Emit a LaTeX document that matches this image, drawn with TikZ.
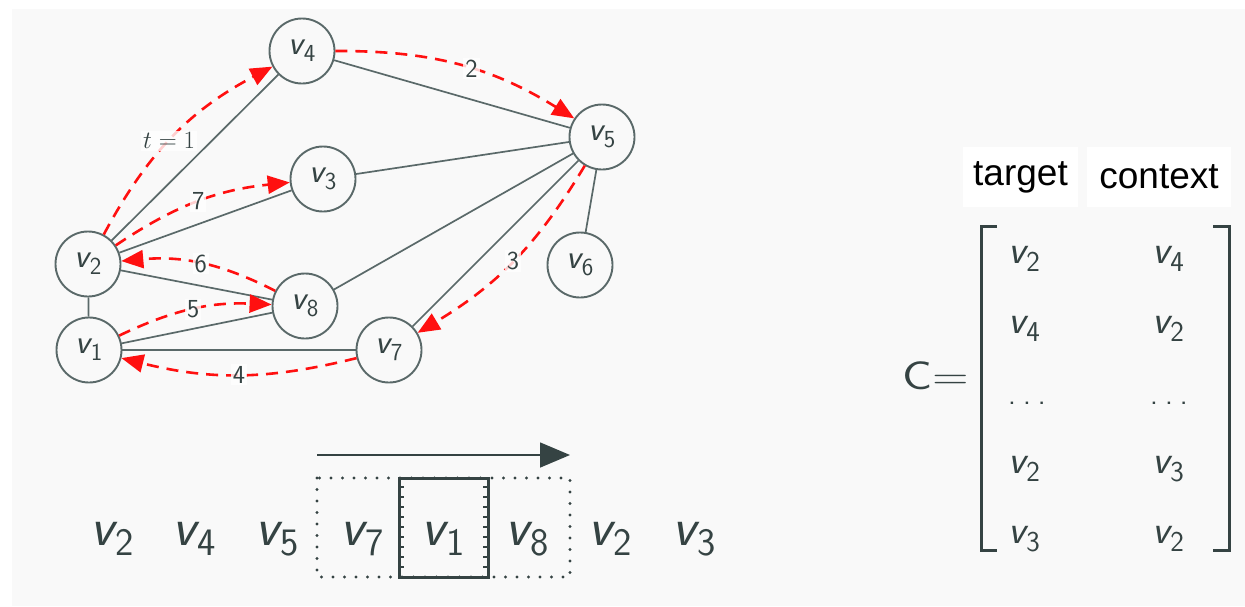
\documentclass[tikz,border=0pt]{standalone}
\usepackage{fontspec}
\newfontfamily\helv{Liberation Sans}
\usetikzlibrary{arrows.meta}
\definecolor{bg}{HTML}{F9F9F9}
\definecolor{edgec}{HTML}{5A6969}
\definecolor{ink}{HTML}{354343}
\definecolor{redc}{HTML}{FF1010}
\newcommand{\vn}[1]{{\slshape v}\kern0.02em\raisebox{-0.2em}{\scalebox{0.72}{#1}}}
\tikzset{
  gnode/.style={circle, draw=edgec, line width=1.9pt, fill=bg, minimum size=65pt, inner sep=0pt,
    text=ink, font=\sffamily\fontsize{34}{38}\selectfont},
  gedge/.style={draw=edgec, line width=1.7pt},
  redarrow/.style={draw=redc, line width=2.6pt, dash pattern=on 12pt off 8pt,
    -{Triangle[length=22pt,width=18pt]}},
  lbl/.style={fill=white, fill opacity=0.8, text opacity=1, text=ink, inner sep=2pt,
    font=\sffamily\fontsize{26}{28}\selectfont},
  seq/.style={anchor=base, text=ink, font=\sffamily\fontsize{54}{60}\selectfont, inner sep=0pt},
  mat/.style={anchor=base west, text=ink, font=\sffamily\fontsize{40}{44}\selectfont, inner sep=0pt},
  hdr/.style={fill=white, text=black, font=\helv\fontsize{37}{40}\selectfont, minimum height=60pt, inner sep=0pt},
  brk/.style={draw=ink, line width=3pt},
}
\begin{document}
\begin{tikzpicture}[x=1pt,y=-1pt]
\useasboundingbox (0,0) rectangle (1245,606);
\fill[bg] (12,9) rectangle (1245,606);

% graph nodes
\node[gnode] (v4) at (302,51) {\vn{4}};
\node[gnode] (v3) at (323,179) {\vn{3}};
\node[gnode] (v5) at (602,137) {\vn{5}};
\node[gnode] (v6) at (580,265) {\vn{6}};
\node[gnode] (v7) at (389,350) {\vn{7}};
\node[gnode] (v2) at (88,264) {\vn{2}};
\node[gnode] (v8) at (305,306) {\vn{8}};
\node[gnode] (v1) at (89,350) {\vn{1}};

% graph edges
\draw[gedge] (v2) -- (v4);
\draw[gedge] (v2) -- (v3);
\draw[gedge] (v2) -- (v8);
\draw[gedge] (v2) -- (v1);
\draw[gedge] (v1) -- (v8);
\draw[gedge] (v1) -- (v7);
\draw[gedge] (v4) -- (v5);
\draw[gedge] (v3) -- (v5);
\draw[gedge] (v8) -- (v5);
\draw[gedge] (v7) -- (v5);
\draw[gedge] (v6) -- (v5);

% walk
\draw[redarrow] (v2) to[bend left=17] node[lbl, font=\fontsize{25}{28}\selectfont, pos=0.47] {$t=1$} (v4);
\draw[redarrow] (v4.east) to[bend left=16] node[lbl, pos=0.55] {2} (v5);
\draw[redarrow] (v5) to[bend left=14] node[lbl] {3} (v7);
\draw[redarrow] (v7) to[bend left=14] node[lbl] {4} (v1);
\draw[redarrow] (v1) to[bend left=14] node[lbl] {5} (v8);
\draw[redarrow] (v8) to[bend right=16] node[lbl] {6} (v2);
\draw[redarrow] (v2) to[bend left=14] node[lbl] {7} (v3);

% sequence
\node[seq] (s1) at (112,545) {\vn{2}};
\node[seq] (s2) at (194,545) {\vn{4}};
\node[seq] (s3) at (277,545) {\vn{5}};
\node[seq] (s4) at (362,545) {\vn{7}};
\node[seq] (s5) at (443,545) {\vn{1}};
\node[seq] (s6) at (527,545) {\vn{8}};
\node[seq] (s7) at (610,545) {\vn{2}};
\node[seq] (s8) at (694,545) {\vn{3}};

% window
\coordinate (wa) at (317,478);
\coordinate (wb) at (570,577);
\draw[draw=ink, line width=3.4pt, line cap=round, dash pattern=on 0pt off 11.5pt] (wa) rectangle (wb);
\coordinate (ca) at (399,478);
\coordinate (cb) at (488,577);
\foreach \yy in {487,497,...,570} {
  \draw[draw=ink, line width=1.6pt] (399,\yy) -- (404,\yy);
  \draw[draw=ink, line width=1.6pt] (488,\yy) -- (483,\yy);
}
\draw[draw=ink, line width=3pt] (ca) rectangle (cb);
\coordinate (ar1) at (317,455);
\coordinate (ar2) at (570,455);
\draw[draw=ink, line width=1.6pt, -{Triangle[length=30pt,width=25pt]}] (ar1) -- (ar2);

% matrix
\node[hdr, minimum width=115pt] (ht) at (1020.5,177) {target};
\node[hdr, minimum width=144pt] (hc) at (1159,177) {context};
\node[anchor=base east, text=ink, font=\sffamily\fontsize{40}{44}\selectfont, inner sep=0pt] (C) at (969,389) {\scalebox{1.25}[1]{C=}};
\draw[brk] (997,226) -- (981,226) -- (981,550) -- (997,550);
\draw[brk] (1213,226) -- (1229,226) -- (1229,550) -- (1213,550);
\node[mat] (m11) at (1008,263) {\vn{2}};
\node[mat] (m12) at (1152,263) {\vn{4}};
\node[mat] (m21) at (1008,333) {\vn{4}};
\node[mat] (m22) at (1152,333) {\vn{2}};
\node[mat, font=\sffamily\fontsize{30}{34}\selectfont] (m31) at (1008,404) {.\hspace{7pt}.\hspace{7pt}.};
\node[mat, font=\sffamily\fontsize{30}{34}\selectfont] (m32) at (1150,404) {.\hspace{7pt}.\hspace{7pt}.};
\node[mat] (m41) at (1008,473) {\vn{2}};
\node[mat] (m42) at (1152,473) {\vn{3}};
\node[mat] (m51) at (1008,543) {\vn{3}};
\node[mat] (m52) at (1152,543) {\vn{2}};
\end{tikzpicture}
\end{document}
